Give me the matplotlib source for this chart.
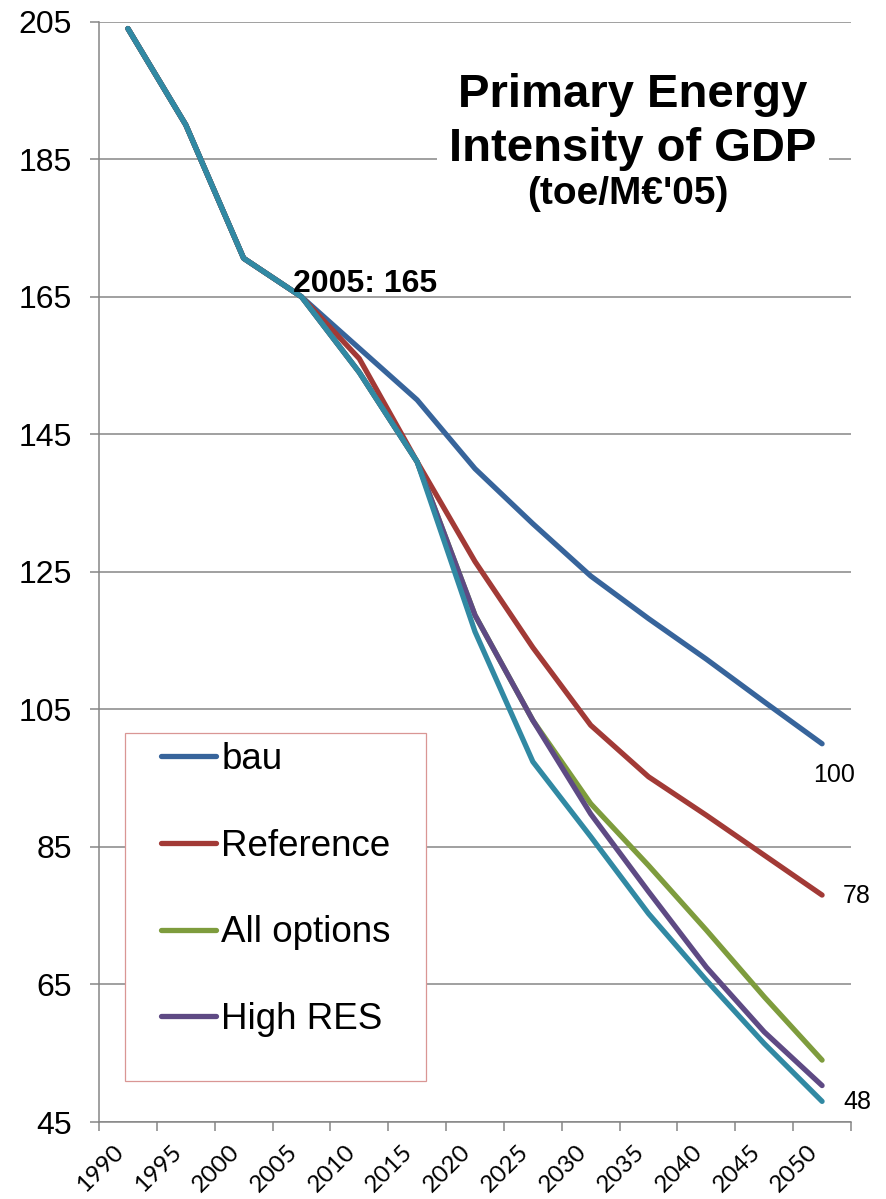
import matplotlib
matplotlib.use("Agg")
import matplotlib.pyplot as plt
from matplotlib.patches import Rectangle
from matplotlib.transforms import ScaledTranslation

# Primary energy intensity of GDP, toe per M EUR (2005 prices)
years = ["1990", "1995", "2000", "2005", "2010", "2015", "2020",
         "2025", "2030", "2035", "2040", "2045", "2050"]
bau = [204, 190, 170.6, 165, 157.5, 150, 140, 132, 124.4, 118.2, 112.3, 106.1, 100]
reference = [204, 190, 170.6, 165, 156, 141, 126.5, 114, 102.7, 95.2, 89.6, 83.8, 78]
all_options = [204, 190, 170.6, 165, 154, 141, 118.7, 103.4, 91.3, 82.3, 72.9, 63.2, 54]
high_res = [204, 190, 170.6, 165, 154, 141, 118.7, 103.4, 89.8, 78.5, 67.5, 58.1, 50.3]
lowest = [204, 190, 170.6, 165, 154, 141, 116.3, 97.4, 86.5, 75.3, 65.6, 56.4, 48]

series = [
    ("bau", bau, "#37649B"),
    ("Reference", reference, "#A23A36"),
    ("All options", all_options, "#7E9C3D"),
    ("High RES", high_res, "#5E4A84"),
    (None, lowest, "#3189A3"),
]

W, H = 886, 1199
fig = plt.figure(figsize=(W / 100, H / 100), dpi=100)

def fx(px):
    return px / W

def fy(py):
    return 1 - py / H

ax = fig.add_axes([fx(99), fy(1122), fx(851) - fx(99), fy(21.7) - fy(1122)])
x = list(range(len(years)))

handles = []
for name, vals, col in series:
    ln, = ax.plot(x, vals, color=col, lw=3.8, solid_capstyle="round",
                  solid_joinstyle="round", zorder=3)
    if name:
        ln.set_label(name)
        handles.append(ln)

ax.set_xlim(-0.5, len(years) - 0.5)
ax.set_ylim(45, 205)
ax.set_yticks(range(45, 206, 20))
ax.set_xticks(x)
ax.set_xticklabels(years, rotation=45, ha="right", fontsize=17.5, family="Lato")
shift = ScaledTranslation(4 / 100, 0, fig.dpi_scale_trans)
for lab in ax.get_xticklabels():
    lab.set_transform(lab.get_transform() + shift)
ax.set_xticks([i - 0.5 for i in range(len(years) + 1)], minor=True)
ax.tick_params(axis="x", which="major", length=0, pad=14)
ax.tick_params(axis="x", which="minor", length=6.5, width=1.1, color="#868686")
ax.tick_params(axis="y", length=6.5, width=1.1, color="#868686", pad=13,
               labelsize=23)
for lab in ax.get_yticklabels():
    lab.set_family("Liberation Sans")

ax.grid(axis="y", color="#868686", lw=1.1)
ax.set_axisbelow(True)
for s in ("top", "right"):
    ax.spines[s].set_visible(False)
for s in ("left", "bottom"):
    ax.spines[s].set_color("#868686")
    ax.spines[s].set_linewidth(1.1)

# Title block on a white panel that interrupts the gridlines
ax.add_patch(Rectangle((fx(437), fy(215)), fx(829) - fx(437), fy(55) - fy(215),
                       transform=fig.transFigure, facecolor="white",
                       edgecolor="none", zorder=2))
tfont = dict(family="Liberation Sans", weight="bold", ha="center", va="baseline")
fig.text(fx(633), fy(107), "Primary Energy", fontsize=34, **tfont)
fig.text(fx(633), fy(161), "Intensity of GDP", fontsize=34, **tfont)
fig.text(fx(628), fy(204), "(toe/M€'05)", fontsize=28, **tfont)

# Point annotations
ax.annotate(f"2005: {reference[3]:g}", (3, reference[3]), xytext=(-6, 3.6),
            textcoords="offset points", fontsize=23, weight="bold",
            family="Liberation Sans", ha="left", va="baseline")
lf = dict(textcoords="offset points", fontsize=18, family="Liberation Sans",
          va="center", ha="left")
ax.annotate(f"{bau[-1]:g}", (12, bau[-1]), xytext=(-6.5, -22.5), **lf)
ax.annotate(f"{reference[-1]:g}", (12, reference[-1]), xytext=(15, -0.5), **lf)
ax.annotate(f"{lowest[-1]:g}", (12, lowest[-1]), xytext=(15, -0.5), **lf)

# Legend with its own frame
fig.patches.append(Rectangle((fx(125), fy(1081)), fx(426) - fx(125),
                             fy(733) - fy(1081), transform=fig.transFigure,
                             facecolor="white", edgecolor="#D99694", lw=0.9,
                             zorder=4))
leg = fig.legend(handles=handles, loc="upper left",
                 bbox_to_anchor=(fx(122), fy(703)), frameon=False,
                 prop=dict(family="Liberation Sans", size=26.5),
                 handlelength=1.5, handletextpad=0.15, labelspacing=1.41,
                 borderpad=0.55)
leg.set_zorder(5)

fig.savefig("out.png", dpi=100)
